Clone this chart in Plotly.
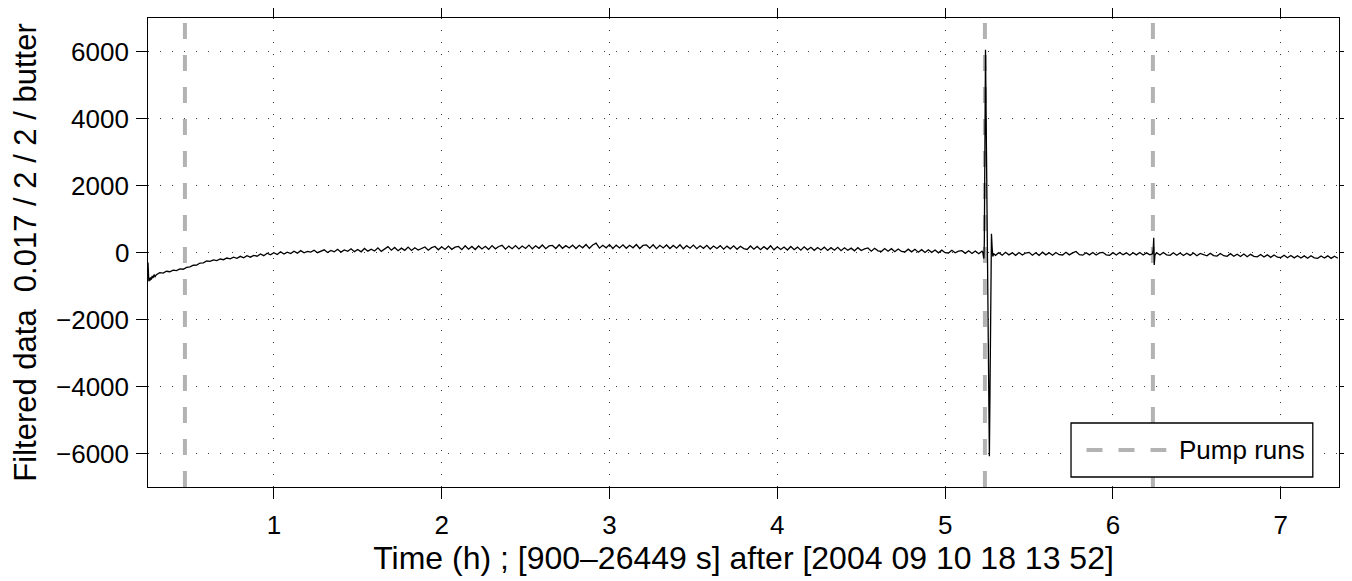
import plotly.graph_objects as go

# ---------------- data ----------------
# start of record (explicit sample times, hours)
start_t = [0.250, 0.252, 0.255, 0.258, 0.262, 0.266, 0.270, 0.275, 0.280, 0.286, 0.292]
start_v = [-300, -700, -860, -760, -840, -740, -810, -700, -760, -660, -720]

# regular sampled stretch from 0.30 h to 5.22 h, one sample every 0.02 h
seg1_t0 = 0.30
seg_dt = 0.02
seg1_v = [
    -660, -600, -615, -560, -575, -525, -540, -490, -500, -445,
    -430, -380, -375, -315, -310, -255, -265, -220, -240, -195,
    -215, -165, -190, -140, -175, -115, -160, -95, -140, -85,
    -110, -45, -95, -20, -70, -5, -60, 20, -45, 10,
    -30, 40, -20, 55, -10, 35, 10, 70, -5, 50,
    80, 0, 60, 20, 95, 10, 75, 35, 110, 25,
    90, 20, 120, 40, 100, 45, 140, 35, 115, 175,
    70, 150, 55, 130, 65, 160, 60, 140, 75, 125,
    165, 70, 145, 180, 80, 170, 90, 190, 95, 160,
    180, 85, 200, 100, 180, 90, 195, 105, 185, 95,
    205, 110, 180, 215, 100, 190, 115, 205, 105, 195,
    120, 220, 110, 200, 125, 225, 115, 195, 210, 120,
    230, 125, 205, 135, 220, 120, 215, 140, 240, 125,
    225, 280, 130, 215, 140, 235, 120, 220, 135, 230,
    125, 215, 140, 240, 120, 210, 225, 130, 230, 115,
    215, 135, 225, 120, 210, 130, 230, 110, 205, 130,
    220, 115, 200, 125, 215, 105, 195, 120, 205, 100,
    190, 110, 200, 95, 185, 115, 90, 195, 100, 180,
    85, 175, 95, 200, 80, 170, 90, 165, 75, 180,
    85, 160, 70, 170, 80, 155, 65, 150, 75, 160,
    60, 145, 70, 155, 55, 140, 65, 130, 50, 145,
    60, 105, 135, 40, 125, 50, 30, 120, 40, 115,
    25, 105, 30, 15, 100, 20, 95, 10, 85, 0,
    80, 5, 75, -10, 70, -5, -15, 65, -10, 40,
    55, -25, 50, -30, 45, -35, 40,
]

# big disturbance around the second pump run
spike1_t = [5.224, 5.228, 5.231, 5.2335, 5.2405, 5.2636, 5.2700, 5.2760, 5.2800, 5.2840, 5.290, 5.296]
spike1_v = [10, -60, -180, 300, 6050, -6080, -1500, 560, 150, -120, -40, -90]

# 5.30 h to 6.22 h
seg2_t0 = 5.30
seg2_v = [
    -85, -5, -80, 5, -70, -10, -85, 0, -75, -15,
    5, -80, -10, -85, 10, -70, -5, -80, 0, -65,
    -75, 5, -70, -10, 30, -65, -80, -5, -70, 0,
    -75, -10, 5, -70, -85, -5, -75, 0, -70, -10,
    -80, -5, -70, 0, -75, -10, -70,
]

# small disturbance around the third pump run
spike2_t = [6.236, 6.240, 6.243, 6.246, 6.250, 6.255]
spike2_v = [-40, 100, 440, -370, -80, -30]

# 6.26 h to 7.34 h
seg3_t0 = 6.26
seg3_v = [
    -5, -75, 0, -70, -85, -10, -80, -15, -90, -20,
    -85, -15, -95, -30, -70, -100, -25, -90, -105, -30,
    -95, -115, -35, -110, -50, -120, -45, -125, -55, -115,
    -130, -60, -135, -70, -145, -75, -140, -150, -80, -155,
    -90, -160, -95, -165, -100, -170, -95, -160, -175, -105,
    -165, -100, -175, -110, -170,
]

pump_runs = [0.47, 5.237, 6.238]

x_range = [900 / 3600, 26449 / 3600]
y_range = [-7000, 7000]
x_ticks = [1, 2, 3, 4, 5, 6, 7]
x_ticktext = ["1", "2", "3", "4", "5", "6", "7"]
y_ticks = [-6000, -4000, -2000, 0, 2000, 4000, 6000]
y_ticktext = ["\u22126000", "\u22124000", "\u22122000", "0", "2000", "4000", "6000"]

x_title = "Time (h) ; [900\u201326449 s] after [2004 09 10 18 13 52]"
y_title = "Filtered data \u00a00.017 / 2 / 2 / butter"
legend_label = "Pump runs"

# ---------------- build series ----------------
def grid(t0, vals):
    return [round(t0 + i * seg_dt, 4) for i in range(len(vals))]

t_all = start_t + grid(seg1_t0, seg1_v) + spike1_t + grid(seg2_t0, seg2_v) + spike2_t + grid(seg3_t0, seg3_v)
v_all = start_v + seg1_v + spike1_v + seg2_v + spike2_v + seg3_v

px_pump, py_pump = [], []
for p in pump_runs:
    px_pump += [p, p, None]
    py_pump += [y_range[0], y_range[1], None]

FONT = "Liberation Sans, Arial, Helvetica, sans-serif"
GRAY = "#b3b3b3"

fig = go.Figure()
fig.add_trace(go.Scatter(
    x=px_pump, y=py_pump, mode="lines",
    line=dict(color=GRAY, width=4, dash="16px,16px"),
    hoverinfo="skip", showlegend=False, name=legend_label,
))
fig.add_trace(go.Scatter(
    x=t_all, y=v_all, mode="lines",
    line=dict(color="black", width=1.3),
    showlegend=False, name="Filtered data",
))

axis_common = dict(
    showline=True, linecolor="black", linewidth=1.4, mirror="ticks",
    ticks="outside", ticklen=11, tickwidth=1.3, tickcolor="black",
    showgrid=True, gridcolor="#3a3a3a", gridwidth=1, griddash="1px,11px",
    zeroline=False, automargin=False,
    tickfont=dict(family=FONT, size=26, color="black"),
)

fig.update_xaxes(
    range=x_range, tickmode="array", tickvals=x_ticks, ticktext=x_ticktext,
    ticklabelstandoff=4,
    title=dict(text=x_title, font=dict(family=FONT, size=32, color="black"), standoff=2),
    **axis_common,
)
fig.update_yaxes(
    range=y_range, tickmode="array", tickvals=y_ticks, ticktext=y_ticktext,
    showticklabels=False,
    title=dict(text=y_title, font=dict(family=FONT, size=31, color="black"), standoff=100),
    **axis_common,
)

# y tick labels placed next to the ticks
for v, txt in zip(y_ticks, y_ticktext):
    fig.add_annotation(xref="paper", yref="y", x=0, y=v, xanchor="right", yanchor="middle",
                       xshift=-17, showarrow=False, text=txt,
                       font=dict(family=FONT, size=26, color="black"))

# legend drawn as a boxed key in the lower right corner
fig.add_shape(type="rect", xref="paper", yref="paper",
              x0=0.775, x1=0.978, y0=0.0213, y1=0.1365,
              line=dict(color="black", width=1.3), fillcolor="white", layer="above")
fig.add_shape(type="line", xref="paper", yref="paper",
              x0=0.788, x1=0.855, y0=0.0789, y1=0.0789,
              line=dict(color=GRAY, width=4, dash="16px,16px"), layer="above")
fig.add_annotation(xref="paper", yref="paper", x=0.8637, y=0.0789,
                   xanchor="left", yanchor="middle", showarrow=False,
                   text=legend_label, font=dict(family=FONT, size=26, color="black"))

fig.update_layout(
    width=1344, height=573,
    margin=dict(l=140, r=13, t=10, b=94, autoexpand=False),
    paper_bgcolor="white", plot_bgcolor="white",
    font=dict(family=FONT, color="black"),
    showlegend=False,
)

fig.write_html("out.html")
